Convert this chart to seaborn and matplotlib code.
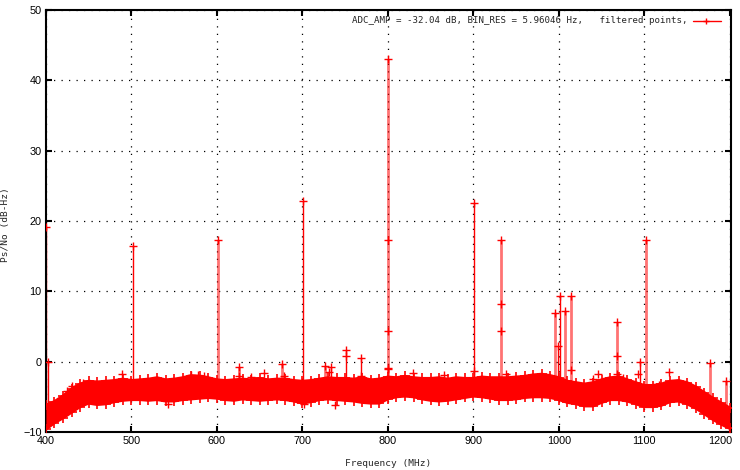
import matplotlib
matplotlib.use("Agg")
from matplotlib import pyplot as plt
import matplotlib.transforms as mtransforms
import numpy as np
import pandas as pd
import seaborn as sns

# noise floor envelope, read every 10 MHz
floor_freq = list(range(400, 1201, 10))
floor_upper = [
    -6.2, -5.7, -4.9, -3.9, -3.2, -2.8, -2.9, -2.8, -2.7, -2.5,
    -2.7, -2.6, -2.5, -2.3, -2.6, -2.5, -2.3, -2.0, -2.1, -2.3,
    -2.6, -2.7, -2.6, -2.5, -2.6, -2.4, -2.6, -2.5, -2.5, -2.7,
    -2.8, -2.7, -2.5, -2.3, -2.4, -2.4, -2.5, -2.3, -2.6, -2.5,
    -2.2, -2.3, -2.1, -2.3, -2.4, -2.4, -2.3, -2.5, -2.3, -2.4,
    -2.4, -2.2, -2.3, -2.3, -2.3, -2.2, -2.1, -1.9, -1.8, -2.0,
    -2.3, -2.8, -3.0, -3.2, -3.0, -2.6, -2.3, -2.2, -2.6, -3.0,
    -3.4, -3.4, -3.2, -2.8, -2.7, -3.0, -3.6, -4.4, -5.2, -5.9,
    -6.6,
]
floor_lower = [
    -9.6, -8.7, -8.0, -7.2, -6.4, -5.9, -6.1, -6.0, -5.7, -5.5,
    -5.4, -5.4, -5.5, -5.4, -5.6, -5.6, -5.4, -5.3, -5.2, -5.1,
    -5.2, -5.4, -5.5, -5.3, -5.4, -5.5, -5.4, -5.3, -5.4, -5.6,
    -5.9, -5.7, -5.4, -5.3, -5.4, -5.5, -5.6, -5.8, -5.9, -5.9,
    -5.3, -5.0, -4.9, -5.0, -5.3, -5.5, -5.6, -5.5, -5.3, -5.1,
    -4.9, -5.0, -5.2, -5.4, -5.4, -5.3, -5.1, -5.0, -5.0, -5.1,
    -5.4, -5.8, -6.0, -6.3, -6.3, -5.8, -5.4, -5.4, -5.6, -6.0,
    -6.4, -6.4, -6.2, -5.7, -5.6, -6.0, -6.6, -7.4, -8.2, -8.9,
    -9.5,
]

# narrow-band spikes (MHz, dB-Hz)
solid_freq = [400.5, 403, 501.5, 700.5, 733, 751, 768, 901, 999.5, 1001, 1095]
solid_peak = [19.2, 0.0, 16.5, 22.9, -0.7, 1.7, 0.5, 22.5, 2.2, 9.3, 0.0]
faint_freq = [601, 626, 675.6, 726, 800.4, 932.5, 995.3, 1007, 1014,
              1068.5, 1101.5, 1176.6, 1195]
faint_peak = [17.3, -0.7, -0.4, -0.6, 43.0, 17.3, 6.9, 7.2, 9.3,
              5.6, 17.3, -0.2, -2.8]

# extra points sitting on spikes or above / below the floor
extra_freq = [800.4, 800.4, 800.4, 932.5, 932.5, 751, 1068.5, 901,
              488.5, 570, 578, 585, 626, 640, 655, 678, 731, 769, 800,
              829, 866, 938, 1014, 1040, 1045.6, 1068, 1075, 1092, 1129,
              1117, 444, 430, 425, 543, 702, 738]
extra_val = [17.35, 4.4, -0.9, 8.2, 4.3, 0.85, 0.85, -1.4,
             -1.8, -1.9, -1.9, -2.0, -2.0, -2.2, -1.6, -2.0, -1.5, -2.0, -1.0,
             -1.6, -1.9, -1.8, -1.2, -2.5, -1.8, -1.8, -2.3, -1.8, -1.5,
             -3.3, -3.0, -3.5, -4.2, -6.0, -6.1, -6.2]

x_ticks = [400, 500, 600, 700, 800, 900, 1000, 1100, 1200]
y_ticks = [-10, 0, 10, 20, 30, 40, 50]

legend_text = "ADC_AMP = -32.04 dB, BIN_RES = 5.96046 Hz,   filtered points,"


def floor_mid(freqs):
    # middle of the floor band under each spike, so the band hides the foot
    mid = (np.array(floor_upper) + np.array(floor_lower)) / 2
    return np.interp(freqs, floor_freq, mid)


def main():
    sns.set_style("ticks")
    plt.rcParams["font.family"] = ["Liberation Sans", "DejaVu Sans"]

    fig = plt.figure(figsize=(7.4, 4.7), dpi=100)
    ax = fig.add_axes([0.062, 0.081, 0.926, 0.898])

    red = "#ff0000"
    df_floor = pd.DataFrame({"freq": floor_freq, "upper": floor_upper,
                             "lower": floor_lower})

    ax.vlines(solid_freq, floor_mid(solid_freq), solid_peak, color=red,
              linewidth=1, zorder=2)
    ax.vlines(faint_freq, floor_mid(faint_freq), faint_peak, color=red,
              alpha=0.55, linewidth=2, zorder=2)

    ax.fill_between(df_floor["freq"], df_floor["lower"], df_floor["upper"],
                    color=red, linewidth=0, zorder=3)
    for col in ["upper", "lower"]:
        sns.lineplot(data=df_floor, x="freq", y=col, ax=ax, color=red,
                     marker="+", markersize=6.5, markeredgewidth=1.2,
                     markeredgecolor=red, linewidth=2.2, zorder=3)

    pts = pd.DataFrame({
        "freq": solid_freq + faint_freq + extra_freq,
        "val": solid_peak + faint_peak + extra_val,
    })
    sns.scatterplot(data=pts, x="freq", y="val", ax=ax, marker="+",
                    color=red, edgecolor=red, s=40, linewidth=1, zorder=5)

    ax.set_xlim(400, 1201.5)
    ax.set_ylim(-10, 50)
    ax.set_xticks(x_ticks)
    ax.set_yticks(y_ticks)
    ax.tick_params(direction="in", length=4, width=1.5, top=True, right=True,
                   labelsize=7.8, pad=3, colors="black")
    ax.grid(True, color="black", linestyle=(0, (1, 5)), linewidth=0.9)
    for s in ax.spines.values():
        s.set_linewidth(1.5)
        s.set_color("black")

    # gnuplot pulls the last x label in from the edge
    last = ax.get_xticklabels()[-1]
    last.set_transform(last.get_transform() + mtransforms.ScaledTranslation(
        -10 / 100, 0, fig.dpi_scale_trans))

    ax.set_xlabel("Frequency (MHz)", family="DejaVu Sans Mono", fontsize=6.8,
                  labelpad=9)
    ax.set_ylabel("Ps/No (dB-Hz)", family="DejaVu Sans Mono", fontsize=6.8)
    ax.yaxis.set_label_coords(-0.053, 0.49)

    # legend drawn as a text + sample line at the top right
    ax.text(0.936, 0.974, legend_text, transform=ax.transAxes, ha="right",
            va="center", family="DejaVu Sans Mono", fontsize=6.6)
    ax.plot([0.944, 0.985], [0.974, 0.974], transform=ax.transAxes,
            color=red, linewidth=1, clip_on=False)
    ax.plot([0.964], [0.974], transform=ax.transAxes, color=red,
            marker="+", markersize=5, clip_on=False)

    plt.savefig("out.png", dpi=100)


if __name__ == "__main__":
    main()
